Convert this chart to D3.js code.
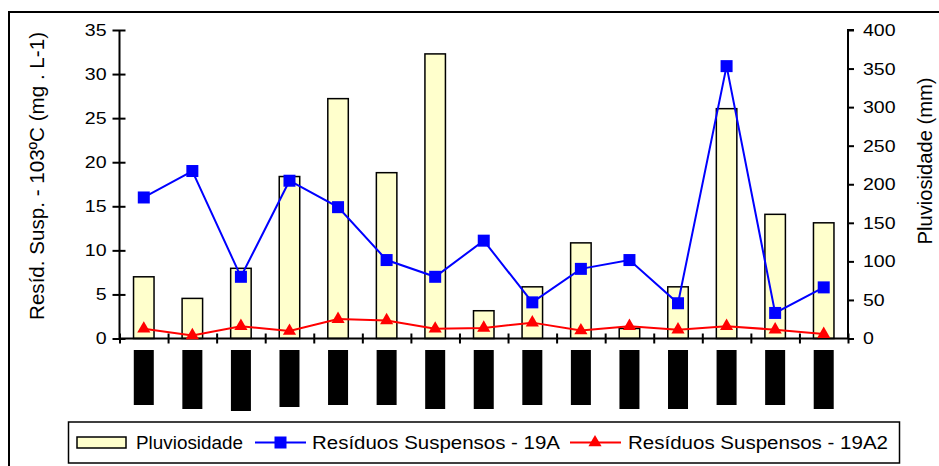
<!DOCTYPE html>
<html>
<head>
<meta charset="utf-8">
<script src="https://cdn.jsdelivr.net/npm/d3@7"></script>
<style>
  body { margin: 0; background: #fff; }
  svg { display: block; font-family: "Liberation Sans", Arial, sans-serif; }
</style>
</head>
<body>
<div id="chart-area"></div>
<script>
// categories (labels are blacked out in the source)
const categories = ['c1','c2','c3','c4','c5','c6','c7','c8','c9','c10','c11','c12','c13','c14','c15'];
// Pluviosidade (mm) - right axis
const pluviosidade = [80, 52, 91, 210, 311, 215, 369, 36, 67, 124, 13, 67, 298, 161, 150];
// Resíduos Suspensos - 19A (mg/L) - left axis
const res19A = [16.0, 19.0, 7.0, 17.9, 14.9, 8.9, 7.0, 11.1, 4.1, 7.9, 8.9, 4.0, 30.9, 2.9, 5.8];
// Resíduos Suspensos - 19A2 (mg/L)
const res19A2 = [1.1, 0.35, 1.4, 0.85, 2.2, 2.05, 1.1, 1.2, 1.8, 0.9, 1.4, 1.0, 1.4, 1.0, 0.5];
// height of the black boxes covering the category labels
const labelBoxHeights = [55, 59, 61, 57, 55, 55, 59, 59, 55, 55, 59, 59, 55, 55, 59];

const leftTicks = [0, 5, 10, 15, 20, 25, 30, 35];
const rightTicks = [0, 50, 100, 150, 200, 250, 300, 350, 400];

const W = 939, H = 466;
const PLOT = { LEFT: 119.5, RIGHT: 848, TOP: 30, BOTTOM: 338.5 };
const STRETCH = 1.15; // source text is drawn wider than normal

const svg = d3.select('#chart-area').append('svg')
  .attr('width', W)
  .attr('height', H);

// outer frame (cut off on the right and bottom)
svg.append('rect')
  .attr('x', 9).attr('y', 12)
  .attr('width', 950).attr('height', 480)
  .attr('fill', 'none').attr('stroke', '#000').attr('stroke-width', 2);

const x = d3.scaleBand()
  .domain(categories)
  .range([PLOT.LEFT, PLOT.RIGHT])
  .paddingInner(0).paddingOuter(0);

const xEdges = d3.scaleLinear()
  .domain([0, categories.length])
  .range([PLOT.LEFT, PLOT.RIGHT]);

const yLeft = d3.scaleLinear().domain([0, 35]).range([PLOT.BOTTOM, PLOT.TOP]);
const yRight = d3.scaleLinear().domain([0, 400]).range([PLOT.BOTTOM, PLOT.TOP]);

const cx = d => x(d) + x.bandwidth() / 2;
const barW = 20.5;

// bars
svg.append('g').selectAll('rect')
  .data(categories)
  .enter().append('rect')
  .attr('x', (d) => cx(d) - barW / 2)
  .attr('y', (d, i) => yRight(pluviosidade[i]))
  .attr('width', barW)
  .attr('height', (d, i) => yRight(0) - yRight(pluviosidade[i]))
  .attr('fill', '#ffffcc')
  .attr('stroke', '#000')
  .attr('stroke-width', 1.5);

// axes
const gl = svg.append('g')
  .attr('transform', `translate(${PLOT.LEFT},0)`)
  .call(d3.axisLeft(yLeft).tickValues(leftTicks).tickSize(7).tickPadding(6));
gl.selectAll('.tick line').attr('x1', 6);

const gr = svg.append('g')
  .attr('transform', `translate(${PLOT.RIGHT},0)`)
  .call(d3.axisRight(yRight).tickValues(rightTicks).tickSize(6).tickPadding(9));

const gx = svg.append('g')
  .attr('transform', `translate(0,${PLOT.BOTTOM})`)
  .call(d3.axisBottom(xEdges).tickValues(d3.range(0, categories.length + 1)).tickSize(5).tickFormat(''));
gx.selectAll('.tick line').attr('y1', -5);

[gl, gr, gx].forEach(g => {
  g.selectAll('.domain').attr('stroke', '#000').attr('stroke-width', 2);
  g.selectAll('.tick line').attr('stroke', '#000').attr('stroke-width', 2);
  g.selectAll('text')
    .attr('fill', '#000')
    .style('font-size', '17px')
    .attr('x', function () { return +d3.select(this).attr('x') / STRETCH; })
    .attr('transform', `scale(${STRETCH},1)`);
});
gl.select('.domain').attr('d', `M0,${PLOT.TOP}V${PLOT.BOTTOM}`);
gr.select('.domain').attr('d', `M6,${PLOT.TOP}H0V${PLOT.BOTTOM}`);
gx.select('.domain').attr('d', `M${PLOT.LEFT},0H${PLOT.RIGHT}`);

// redacted category labels
svg.append('g').selectAll('rect')
  .data(categories)
  .enter().append('rect')
  .attr('x', d => cx(d) - 10)
  .attr('y', 350)
  .attr('width', 20)
  .attr('height', (d, i) => labelBoxHeights[i])
  .attr('fill', '#000');

// lines
const seriesLine = d3.line()
  .x((d, i) => cx(categories[i]))
  .y(d => yLeft(d));

svg.append('path')
  .datum(res19A2)
  .attr('d', seriesLine)
  .attr('fill', 'none')
  .attr('stroke', '#ff0000')
  .attr('stroke-width', 2);

svg.append('path')
  .datum(res19A)
  .attr('d', seriesLine)
  .attr('fill', 'none')
  .attr('stroke', '#0000ff')
  .attr('stroke-width', 2);

const tri = d3.symbol().type(d3.symbolTriangle).size(75);

svg.append('g').selectAll('path')
  .data(res19A2)
  .enter().append('path')
  .attr('d', tri)
  .attr('transform', (d, i) => `translate(${cx(categories[i])},${yLeft(d)})`)
  .attr('fill', '#ff0000');

svg.append('g').selectAll('rect')
  .data(res19A)
  .enter().append('rect')
  .attr('x', (d, i) => cx(categories[i]) - 6)
  .attr('y', d => yLeft(d) - 6)
  .attr('width', 12)
  .attr('height', 12)
  .attr('fill', '#0000ff');

// axis titles
svg.append('text')
  .attr('transform', 'translate(44,176) rotate(-90)')
  .attr('text-anchor', 'middle')
  .attr('textLength', 288)
  .attr('lengthAdjust', 'spacingAndGlyphs')
  .style('font-size', '20px')
  .text('Resíd. Susp. - 103ºC (mg . L-1)');

svg.append('text')
  .attr('transform', 'translate(932,161) rotate(-90)')
  .attr('text-anchor', 'middle')
  .attr('textLength', 167)
  .attr('lengthAdjust', 'spacingAndGlyphs')
  .style('font-size', '20px')
  .text('Pluviosidade (mm)');

// legend
const legend = svg.append('g');
legend.append('rect')
  .attr('x', 68.5).attr('y', 422)
  .attr('width', 831).attr('height', 41)
  .attr('fill', '#fff').attr('stroke', '#000').attr('stroke-width', 1.5);

const ly = 442.5;
legend.append('rect')
  .attr('x', 77).attr('y', 437)
  .attr('width', 49).attr('height', 11)
  .attr('fill', '#ffffcc').attr('stroke', '#000').attr('stroke-width', 1.5);
legend.append('text')
  .attr('x', 136).attr('y', ly).attr('dy', '0.36em')
  .attr('textLength', 107).attr('lengthAdjust', 'spacingAndGlyphs')
  .style('font-size', '17.5px')
  .text('Pluviosidade');

legend.append('line')
  .attr('x1', 255).attr('x2', 306).attr('y1', ly).attr('y2', ly)
  .attr('stroke', '#0000ff').attr('stroke-width', 2);
legend.append('rect')
  .attr('x', 274.5).attr('y', ly - 6).attr('width', 12).attr('height', 12)
  .attr('fill', '#0000ff');
legend.append('text')
  .attr('x', 312).attr('y', ly).attr('dy', '0.36em')
  .attr('textLength', 248).attr('lengthAdjust', 'spacingAndGlyphs')
  .style('font-size', '17.5px')
  .text('Resíduos Suspensos - 19A');

legend.append('line')
  .attr('x1', 570).attr('x2', 621).attr('y1', ly).attr('y2', ly)
  .attr('stroke', '#ff0000').attr('stroke-width', 2);
legend.append('path')
  .attr('d', tri)
  .attr('transform', `translate(595,${ly})`)
  .attr('fill', '#ff0000');
legend.append('text')
  .attr('x', 628).attr('y', ly).attr('dy', '0.36em')
  .attr('textLength', 260).attr('lengthAdjust', 'spacingAndGlyphs')
  .style('font-size', '17.5px')
  .text('Resíduos Suspensos - 19A2');
</script>
</body>
</html>
